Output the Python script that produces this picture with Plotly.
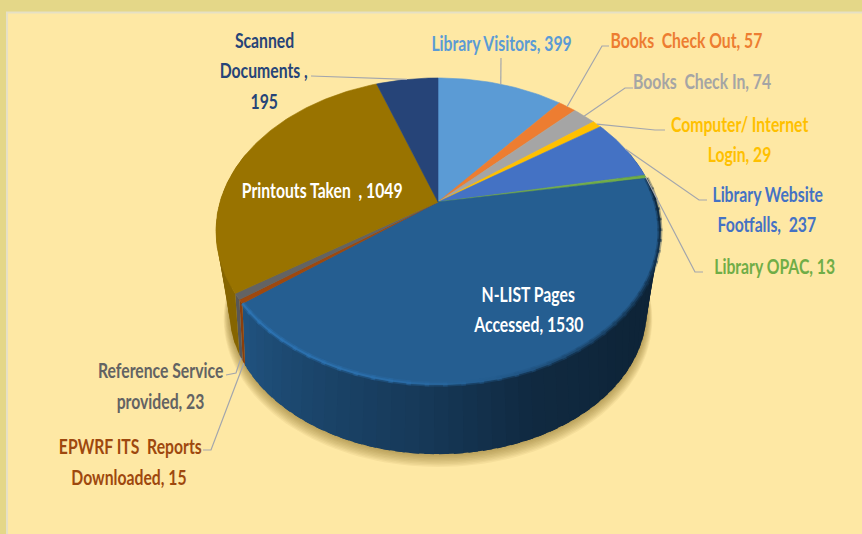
import numpy as np
import plotly.graph_objects as go

categories = ["Library Visitors", "Books Check Out", "Books Check In", "Computer/ Internet Login",
              "Library Website Footfalls", "Library OPAC", "N-LIST Pages Accessed",
              "EPWRF ITS Reports Downloaded", "Reference Service provided", "Printouts Taken", "Scanned Documents"]
values = [399, 57, 74, 29, 237, 13, 1530, 15, 23, 1049, 195]
colors = ["#5b9bd5", "#ed7d31", "#a5a5a5", "#ffc000", "#4472c4", "#70ad47",
          "#255e91", "#9e480e", "#636363", "#997300", "#264478"]

# label lines: text, x, y, colour
label_lines = [
    ("Library Visitors, 399", 501, 42, colors[0]),
    ("Books\u00a0 Check Out, 57", 686, 39, colors[1]),
    ("Books\u00a0 Check In, 74", 702, 80, colors[2]),
    ("Computer/ Internet", 739, 123, colors[3]),
    ("Login, 29", 739, 153, colors[3]),
    ("Library Website", 767, 193, colors[4]),
    ("Footfalls,\u00a0 237", 767, 223, colors[4]),
    ("Library OPAC, 13", 774, 265, colors[5]),
    ("N-LIST Pages", 528, 293, "#ffffff"),
    ("Accessed, 1530", 528, 323, "#ffffff"),
    ("Printouts Taken\u00a0 , 1049", 322, 189, "#ffffff"),
    ("Reference Service", 160, 369, colors[8]),
    ("provided, 23", 160, 400, colors[8]),
    ("EPWRF ITS\u00a0 Reports", 130, 445, colors[7]),
    ("Downloaded, 15", 129, 476, colors[7]),
    ("Scanned", 264, 39, colors[10]),
    ("Documents ,", 264, 69, colors[10]),
    ("195", 264, 100, colors[10]),
]
# leader elbows by slice index (label-side points)
leaders = {
    0: [(501, 58)],
    1: [(609, 46), (602, 46)],
    2: [(633, 88), (625, 88)],
    3: [(665, 130), (655, 130)],
    4: [(707, 200), (699, 200)],
    5: [(703, 272), (695, 272)],
    7: [(203, 450), (211, 450)],
    8: [(226, 375), (236, 373)],
    10: [(311, 76)],
}
bottom_anchor = {7, 8}

CX, CY, A, F, K = 438, 202, 218, 147.6, 0.19
B_SCALE, B_DY, B_WARP = 0.94, 81, 1.1


def rim(theta_deg, scale=1.0, dy=0.0):
    t = np.radians(theta_deg)
    X, Y = np.sin(t), np.cos(t)
    d = 1 + K * Y
    return CX + scale * A * X / d, CY - scale * F * Y / d + dy


def bottom(theta_deg):
    return rim(180 + (np.asarray(theta_deg, dtype=float) - 180) * B_WARP, B_SCALE, B_DY)


def poly(x, y, color, line=True):
    return go.Scatter(x=list(x), y=list(y), mode="lines", fill="toself", fillcolor=color,
                      line=dict(color=color, width=0.6 if line else 0),
                      hoverinfo="skip", showlegend=False)


def shade(hex_color, f):
    r, g, b = [int(hex_color[i:i + 2], 16) for i in (1, 3, 5)]
    return f"rgb({min(255, int(r * f))},{min(255, int(g * f))},{min(255, int(b * f))})"


fractions = np.array(values) / sum(values)
edges = np.concatenate([[0], np.cumsum(fractions)]) * 360

fig = go.Figure()

# soft shadow under the pie
full = np.linspace(0, 360, 181)
for off in range(9, 0, -1):
    sx, sy = rim(full, scale=B_SCALE + off * 0.0028, dy=B_DY + off * 0.9)
    fig.add_trace(poly(sx, sy, "rgba(130,105,30,0.07)", line=False))

# side wall: only the front part shows
SH_T = [60, 95, 135, 160, 185, 210, 232, 290]
SH_F = [0.36, 0.36, 0.40, 0.45, 0.62, 0.75, 0.88, 0.88]
for i, col in enumerate(colors):
    a, b = max(edges[i], 70), min(edges[i + 1], 290)
    if b <= a:
        continue
    n = max(1, int((b - a) / 3))
    st = np.linspace(a, b, n + 1)
    for s0, s1 in zip(st[:-1], st[1:]):
        arc = np.linspace(s0, min(s1 + 2, b), 5)
        x, y = rim(arc)
        bx, by = bottom(arc)
        xs = np.concatenate([x, bx[::-1]])
        ys = np.concatenate([y, by[::-1]])
        fig.add_trace(poly(xs, ys, shade(col, float(np.interp((s0 + s1) / 2, SH_T, SH_F))), line=False))

# top face
for i, col in enumerate(colors):
    arc = np.linspace(edges[i], edges[i + 1], max(3, int(edges[i + 1] - edges[i]) + 2))
    x, y = rim(arc)
    fig.add_trace(poly(np.r_[CX, x, CX], np.r_[CY, y, CY], col))

# bevel along the front rim: soft wide pass, then a narrow pass
nl = 6
st = np.linspace(edges[nl], edges[nl + 1], 40)
BV_T = [93, 120, 150, 170, 190, 232]
BV_F = [0.42, 0.6, 0.8, 1.0, 1.18, 1.25]
for width, op in ((5, 0.35), (2, 0.9)):
    for s0, s1 in zip(st[:-1], st[1:]):
        m = (s0 + s1) / 2
        x, y = rim(np.linspace(s0, min(s1 + 1, edges[nl + 1]), 3))
        c = float(np.interp(m, BV_T, BV_F))
        fig.add_trace(go.Scatter(x=x, y=y, mode="lines", hoverinfo="skip", showlegend=False,
                                 opacity=op, line=dict(color=shade(colors[nl], c), width=width)))

# leader lines
for i, pts in leaders.items():
    mid = (edges[i] + edges[i + 1]) / 2
    rx, ry = bottom(mid) if i in bottom_anchor else rim(mid)
    xs = [p[0] for p in pts] + [float(rx)]
    ys = [p[1] for p in pts] + [float(ry)]
    fig.add_trace(go.Scatter(x=xs, y=ys, mode="lines", hoverinfo="skip", showlegend=False,
                             line=dict(color="#a3a6ad", width=1.2)))

anns = [dict(x=x, y=y, text=t, showarrow=False, xanchor="center", yanchor="middle",
             font=dict(family="Lato", size=21, color=c, weight="bold"))
        for t, x, y, c in label_lines]

fig.update_layout(
    width=862, height=534, autosize=False,
    margin=dict(l=0, r=0, t=0, b=0),
    paper_bgcolor="#e4d788",
    plot_bgcolor="rgba(0,0,0,0)",
    xaxis=dict(range=[0, 862], visible=False, fixedrange=True),
    yaxis=dict(range=[534, 0], visible=False, fixedrange=True),
    annotations=anns,
    shapes=[dict(type="rect", xref="paper", yref="paper", layer="below",
                 x0=7 / 862, x1=1.01, y0=-0.01, y1=1 - 12.5 / 534,
                 fillcolor="#fee8a4", line=dict(color="#e6e0c4", width=2))],
)
# page margin off; labels condensed horizontally like the reference's narrow face
post = """
document.body.style.margin = '0';
document.querySelectorAll('text.annotation-text').forEach(function (t) {
  var x = parseFloat(t.getAttribute('x')) || 0;
  t.setAttribute('transform', 'translate(' + x + ',0) scale(0.75,1) translate(' + (-x) + ',0)');
});
"""
fig.write_html("out.html", config={"displayModeBar": False}, post_script=post)
